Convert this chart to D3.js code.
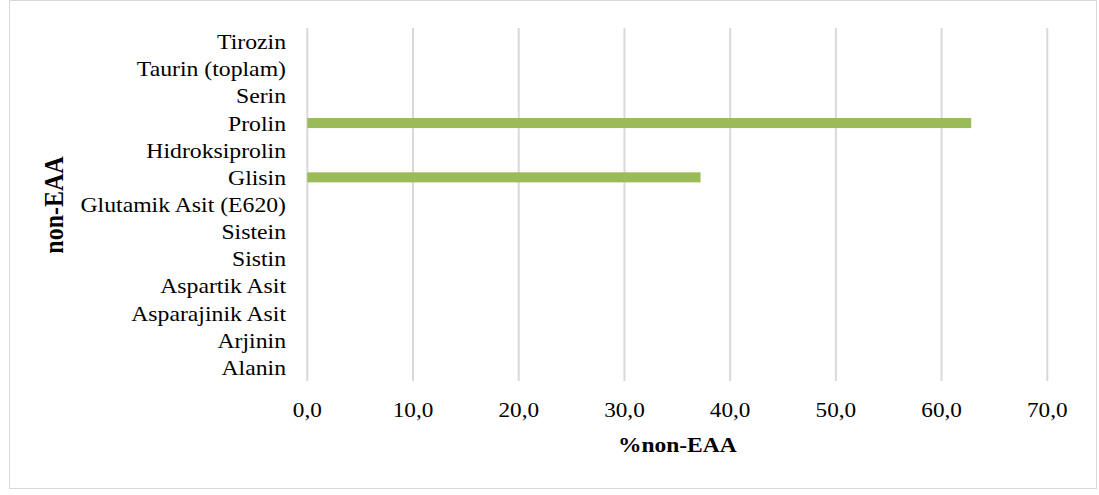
<!DOCTYPE html>
<html>
<head>
<meta charset="utf-8">
<script src="https://cdn.jsdelivr.net/npm/d3@7"></script>
<style>
  html, body { margin: 0; padding: 0; background: #fff; }
  svg { display: block; }
  text { font-family: "Liberation Serif", "Times New Roman", serif; fill: #000; }
</style>
</head>
<body>
<svg id="chart" width="1099" height="495"></svg>
<script>
// Non-essential amino acid shares (%), listed bottom to top
const categories = [
  "Alanin", "Arjinin", "Asparajinik Asit", "Aspartik Asit", "Sistin", "Sistein",
  "Glutamik Asit (E620)", "Glisin", "Hidroksiprolin", "Prolin", "Serin",
  "Taurin (toplam)", "Tirozin"
];
const values = [0, 0, 0, 0, 0, 0, 0, 37.2, 0, 62.8, 0, 0, 0];
const xTicks = [0, 10, 20, 30, 40, 50, 60, 70];
const xTitle = "%non-EAA";
const yTitle = "non-EAA";

const svg = d3.select("#chart");
const plot = { left: 307.3, right: 1047.3, top: 28, bottom: 381 };
const stretch = 1.13;

// outer frame
svg.append("rect")
  .attr("x", 9.5).attr("y", 0.5)
  .attr("width", 1087).attr("height", 488)
  .attr("fill", "#fff").attr("stroke", "#d9d9d9").attr("stroke-width", 1);

const x = d3.scaleLinear().domain([0, 70]).range([plot.left, plot.right]);
const y = d3.scaleBand()
  .domain(categories.slice().reverse())
  .range([plot.top, plot.bottom])
  .paddingInner(0.63).paddingOuter(0.315);
const band = d3.scaleBand()
  .domain(categories.slice().reverse())
  .range([plot.top, plot.bottom]);

// vertical gridlines
svg.append("g").selectAll("line").data(xTicks).join("line")
  .attr("x1", d => x(d)).attr("x2", d => x(d))
  .attr("y1", plot.top).attr("y2", plot.bottom)
  .attr("stroke", "#d9d9d9").attr("stroke-width", 2);

// bars
svg.append("g").selectAll("rect").data(categories.map((c, i) => ({ c, v: values[i] })).filter(d => d.v > 0))
  .join("rect")
  .attr("x", x(0))
  .attr("y", d => y(d.c))
  .attr("width", d => x(d.v) - x(0))
  .attr("height", y.bandwidth())
  .attr("fill", "#9bbb59");

// category labels
svg.append("g").selectAll("text").data(categories).join("text")
  .attr("transform", d => `translate(286,${band(d) + band.bandwidth() / 2 + 7.5}) scale(${stretch},1)`)
  .attr("text-anchor", "end")
  .attr("font-size", 21)
  .text(d => d);

// x tick labels
const fmt = v => v.toFixed(1).replace(".", ",");
svg.append("g").selectAll("text").data(xTicks).join("text")
  .attr("transform", d => `translate(${x(d)},417) scale(1.08,1)`)
  .attr("text-anchor", "middle")
  .attr("font-size", 21.5)
  .text(fmt);

// axis titles
svg.append("text")
  .attr("transform", `translate(${(plot.left + plot.right) / 2},452) scale(1.12,1)`)
  .attr("text-anchor", "middle")
  .attr("font-size", 21)
  .attr("font-weight", "bold")
  .text(xTitle);

svg.append("text")
  .attr("transform", `translate(63,205) scale(1.12,1) rotate(-90)`)
  .attr("text-anchor", "middle")
  .attr("font-size", 24)
  .attr("font-weight", "bold")
  .text(yTitle);
</script>
</body>
</html>
